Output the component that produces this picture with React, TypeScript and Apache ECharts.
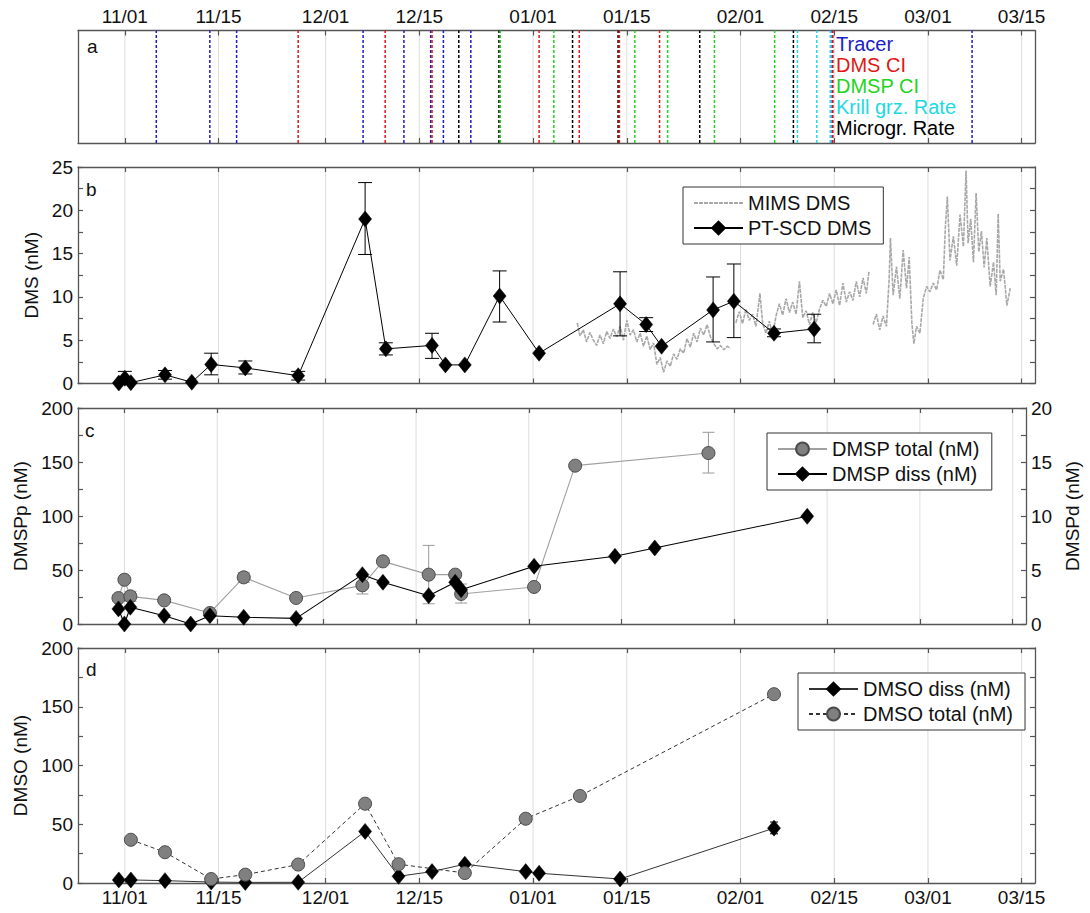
import React, { useEffect, useRef } from 'react';
import * as echarts from 'echarts';

// ---------- axis ticks (days since 11/01) ----------
const X_MIN = -7;
const X_MAX = 136;
const tickDays = [0, 14, 30, 44, 61, 75, 92, 106, 120, 134];
const tickLabels = ['11/01', '11/15', '12/01', '12/15', '01/01', '01/15', '02/01', '02/15', '03/01', '03/15'];

// ---------- panel a: sampling events (days since 11/01) ----------
const tracerDays = [4.7, 12.7, 16.7, 35.6, 41.7, 45.7, 47.6, 51.7, 105.7, 126.6];
const dmsCiDays = [25.9, 38.9, 45.9, 61.9, 67.9, 73.9, 79.9, 105.8];
const dmspCiDays = [56.1, 64.1, 76.2, 81.1, 88.1, 97.1];
const krillDays = [100.5, 103.4, 105.4];
const micrograzDays = [49.9, 55.9, 66.9, 73.7, 85.9, 99.9];

// ---------- panel b: DMS ----------
const mimsTrace: [number, number | null][] = [
  [67.6, 7.0], [68, 5.5], [68.5, 6.2], [69, 4.8], [69.5, 5.9], [70, 5.0], [70.5, 4.4], [71, 5.6],
  [71.5, 4.6], [72, 6.0], [72.5, 5.2], [73, 6.3], [73.5, 5.4], [74, 6.6], [74.5, 5.0], [75, 7.3],
  [75.5, 5.6], [76, 6.2], [76.5, 4.8], [77, 5.8], [77.5, 4.3], [78, 5.5], [78.5, 3.9], [79, 4.7],
  [79.5, 2.2], [80, 3.0], [80.5, 1.3], [81, 2.6], [81.5, 2.0], [82, 3.4], [82.5, 2.8], [83, 4.0],
  [83.5, 3.5], [84, 5.2], [84.5, 4.2], [85, 5.8], [85.5, 4.8], [86, 6.4], [86.5, 5.6], [87, 6.8],
  [87.5, 5.4], [88, 4.6], [88.5, 4.0], [89, 4.4], [89.5, 3.9], [90, 4.3], [90.5, 4.1], [91, null],
  [91.3, 7.0], [91.8, 8.3], [92.3, 6.9], [92.8, 8.6], [93.3, 7.3], [93.8, 8.0], [94.3, 6.6], [94.9, 10.4],
  [95.3, 7.0], [95.8, 5.8], [96.3, 7.2], [96.8, 5.6], [97.3, 7.8], [97.8, 9.2], [98.3, 7.9], [98.8, 9.8],
  [99.3, 8.2], [99.8, 9.4], [100.3, 8.0], [100.8, 11.8], [101.3, 7.6], [101.8, 8.4], [102.3, 6.8], [102.8, 8.2],
  [103.3, 7.0], [103.8, 8.6], [104.3, 9.6], [104.8, 8.9], [105.3, 10.4], [105.8, 9.2], [106.3, 10.8], [106.8, 9.0],
  [107.3, 11.6], [107.8, 9.4], [108.3, 10.6], [108.8, 9.6], [109.3, 11.8], [109.8, 10.0], [110.3, 12.2], [110.8, 10.4],
  [111.2, 13.0], [111.5, null],
  [111.8, 6.8], [112.3, 8.0], [112.8, 6.2], [113.3, 7.8], [113.8, 6.6], [114.2, 12.0], [114.4, 16.8], [114.8, 10.2],
  [115.3, 13.5], [115.8, 9.8], [116.3, 15.4], [116.8, 11.0], [117.2, 14.6], [117.6, 7.0], [117.9, 4.6], [118.3, 6.6],
  [118.8, 5.8], [119.3, 9.8], [119.8, 11.2], [120.3, 10.6], [120.8, 11.6], [121.3, 10.8], [121.8, 13.1], [122.3, 12.0],
  [122.6, 18.0], [122.9, 21.6], [123.3, 14.2], [123.8, 17.0], [124.3, 13.6], [124.8, 19.5], [125.3, 15.8], [125.7, 24.6],
  [126.0, 16.2], [126.4, 19.0], [126.8, 14.0], [127.2, 22.0], [127.6, 15.2], [128.0, 17.6], [128.4, 13.4], [128.8, 16.8],
  [129.3, 11.2], [129.8, 14.0], [130.2, 10.2], [130.5, 19.6], [130.8, 11.8], [131.3, 13.2], [131.8, 9.0], [132.3, 11.0],
];
const dmsDays = [-0.9, 0, 0.9, 6.0, 10.0, 12.9, 18.0, 25.9, 35.9, 39.0, 45.9, 47.9, 50.8, 56.0, 61.9, 74.0, 77.9, 80.2, 87.9, 91.0, 97.0, 103.0];
const dmsVals = [0.05, 0.6, 0.1, 1.0, 0.15, 2.2, 1.8, 0.9, 19.0, 4.0, 4.4, 2.15, 2.15, 10.1, 3.5, 9.2, 6.8, 4.3, 8.5, 9.5, 5.8, 6.3];
const dmsErrLo = [null, 0, null, 0.5, null, 1.0, 1.1, 0.4, 14.9, 3.3, 2.9, null, null, 7.1, null, 5.5, 6.0, null, 4.8, 5.3, 5.4, 4.7];
const dmsErrHi = [null, 1.4, null, 1.5, null, 3.5, 2.6, 1.4, 23.2, 4.7, 5.8, null, null, 13.0, null, 12.9, 7.6, null, 12.3, 13.8, 6.3, 8.0];

// ---------- panel c: DMSP ----------
const dmspTotDays = [-0.9, 0, 0.9, 6.0, 12.9, 18.0, 25.9, 35.9, 39.0, 45.9, 49.9, 50.8, 61.8, 68.0, 88.1];
const dmspTotVals = [24, 41, 25.6, 21.9, 10.2, 43.2, 24.1, 35.8, 58.0, 45.7, 45.7, 27.8, 34.3, 146.6, 158.3];
const dmspTotErrLo = [null, null, 21, null, null, 38.5, null, 27.8, null, 18.7, null, 19.4, null, null, 139.8];
const dmspTotErrHi = [null, null, 30.2, null, null, 47.8, null, 44, null, 72.8, null, 37, null, null, 177.5];
const dmspDissDays = [-0.9, 0, 0.9, 6.0, 10.0, 12.9, 18.0, 25.9, 35.9, 39.0, 45.9, 49.9, 50.8, 61.8, 74.0, 80.0, 103.0];
const dmspDissVals = [1.4, 0.0, 1.55, 0.77, 0.0, 0.77, 0.62, 0.52, 4.57, 3.86, 2.62, 3.86, 3.18, 5.34, 6.27, 7.04, 9.97];

// ---------- panel d: DMSO ----------
const dmsoDissDays = [-0.9, 0.9, 6.0, 12.9, 18.0, 25.9, 35.9, 40.9, 45.9, 50.8, 59.9, 61.9, 74.0, 97.0];
const dmsoDissVals = [2.6, 2.6, 2.0, 0.8, 0.5, 0.6, 43.9, 5.7, 9.7, 16.0, 9.7, 8.3, 3.4, 46.7];
const dmsoDissErrLo = [null, null, null, null, null, null, null, null, null, null, null, null, null, 41.9];
const dmsoDissErrHi = [null, null, null, null, null, null, null, null, null, null, null, null, null, 51.9];
const dmsoTotDays = [0.9, 6.0, 12.9, 18.0, 25.9, 35.9, 40.9, 50.8, 59.9, 68.0, 97.0];
const dmsoTotVals = [36.8, 26.2, 3.4, 7.1, 15.7, 67.5, 16.0, 8.5, 54.7, 74.1, 160.7];

// ---------- styling ----------
const FONT = '"Liberation Sans", Arial, Helvetica, sans-serif';
const AX = '#555555';
const TXT = '#111111';

const grids = [
  { left: 78, top: 30.5, width: 957, height: 112.5 },
  { left: 78, top: 167, width: 957, height: 216.5 },
  { left: 78, top: 408, width: 957, height: 216 },
  { left: 78, top: 648, width: 957, height: 235 },
];
const yRanges = [
  [0, 1],
  [0, 25],
  [0, 200],
  [0, 200],
];

function xAxis(gridIndex: number, position: 'top' | 'bottom', showLabel: boolean) {
  return {
    type: 'value',
    gridIndex,
    position,
    min: X_MIN,
    max: X_MAX,
    axisLine: { show: true, onZero: false, lineStyle: { color: AX, width: 1.3 } },
    axisTick: { show: true, inside: true, length: 5, customValues: tickDays, lineStyle: { color: AX, width: 1.2 } },
    axisLabel: {
      show: showLabel,
      customValues: tickDays,
      formatter: (v: number) => {
        const i = tickDays.indexOf(v);
        return i >= 0 ? tickLabels[i] : '';
      },
      fontSize: 19,
      color: TXT,
      fontFamily: FONT,
      margin: 5,
    },
    splitLine: { show: false },
  };
}

function yAxis(
  gridIndex: number,
  position: 'left' | 'right',
  min: number,
  max: number,
  interval: number,
  labelStep: number,
  showLabel: boolean,
  showTick: boolean,
  name?: string
) {
  return {
    type: 'value',
    gridIndex,
    position,
    min,
    max,
    interval,
    axisLine: { show: true, onZero: false, lineStyle: { color: AX, width: 1.3 } },
    axisTick: { show: showTick, inside: true, length: 5, lineStyle: { color: AX, width: 1.2 } },
    axisLabel: {
      show: showLabel,
      formatter: (v: number) => {
        const r = v / labelStep;
        return Math.abs(r - Math.round(r)) < 1e-6 ? String(v) : '';
      },
      fontSize: 19,
      color: TXT,
      fontFamily: FONT,
      margin: 5,
    },
    splitLine: { show: false },
    name: name || '',
    nameLocation: 'middle',
    nameGap: 28,
    nameRotate: 90,
    nameTextStyle: { fontSize: 19, color: TXT, fontFamily: FONT },
  };
}

function gridLineSeries(g: number) {
  const [y0, y1] = yRanges[g];
  return {
    type: 'custom',
    xAxisIndex: 2 * g,
    yAxisIndex: 2 * g,
    silent: true,
    z: 0,
    data: tickDays.map((d) => [d, y0]),
    renderItem: (_p: any, api: any) => {
      const d = api.value(0);
      const a = api.coord([d, y0]);
      const b = api.coord([d, y1]);
      return {
        type: 'line',
        shape: { x1: a[0], y1: a[1], x2: b[0], y2: b[1] },
        style: { stroke: '#dddddd', lineWidth: 1 },
      };
    },
  };
}

function eventSeries(name: string, days: number[], color: string) {
  return {
    name,
    type: 'custom',
    xAxisIndex: 0,
    yAxisIndex: 0,
    silent: true,
    z: 2,
    itemStyle: { color },
    data: days.map((d) => [d, 0]),
    renderItem: (_p: any, api: any) => {
      const d = api.value(0);
      const a = api.coord([d, 0]);
      const b = api.coord([d, 1]);
      return {
        type: 'line',
        shape: { x1: a[0], y1: a[1], x2: b[0], y2: b[1] },
        style: { stroke: color, lineWidth: 1.5, lineDash: [3, 2] },
      };
    },
  };
}

function errorSeries(
  xAxisIndex: number,
  yAxisIndex: number,
  days: number[],
  lo: (number | null)[],
  hi: (number | null)[],
  color: string,
  capHalf: number
) {
  const data: number[][] = [];
  days.forEach((d, i) => {
    const l = lo[i];
    const h = hi[i];
    if (l != null && h != null) data.push([d, l, h]);
  });
  return {
    type: 'custom',
    xAxisIndex,
    yAxisIndex,
    silent: true,
    z: 2,
    data,
    encode: { x: 0, y: [1, 2] },
    renderItem: (_p: any, api: any) => {
      const x = api.value(0);
      const a = api.coord([x, api.value(1)]);
      const b = api.coord([x, api.value(2)]);
      const style = { stroke: color, lineWidth: 1 };
      return {
        type: 'group',
        children: [
          { type: 'line', shape: { x1: a[0], y1: a[1], x2: b[0], y2: b[1] }, style },
          { type: 'line', shape: { x1: a[0] - capHalf, y1: a[1], x2: a[0] + capHalf, y2: a[1] }, style },
          { type: 'line', shape: { x1: b[0] - capHalf, y1: b[1], x2: b[0] + capHalf, y2: b[1] }, style },
        ],
      };
    },
  };
}

const pair = (xs: number[], ys: number[]) => xs.map((x, i) => [x, ys[i]]);

const diamond = { symbol: 'diamond', symbolSize: [13, 16], itemStyle: { color: '#000', borderColor: '#000', borderWidth: 0.5 } };
const circle = { symbol: 'circle', symbolSize: 13, itemStyle: { color: '#808080', borderColor: '#4a4a4a', borderWidth: 1 } };

function buildOption() {
  const boxLegend = {
    orient: 'vertical',
    backgroundColor: '#ffffff',
    borderColor: '#333333',
    borderWidth: 1,
    borderRadius: 0,
    padding: [6, 12, 6, 10],
    itemGap: 5,
    itemWidth: 49,
    itemHeight: 16,
    textStyle: { fontSize: 20, color: TXT, fontFamily: FONT },
    selectedMode: false,
  };
  return {
    animation: false,
    backgroundColor: '#ffffff',
    textStyle: { fontFamily: FONT },
    grid: grids.map((g) => ({ ...g, containLabel: false })),
    xAxis: [
      xAxis(0, 'bottom', false),
      xAxis(0, 'top', true),
      xAxis(1, 'bottom', false),
      xAxis(1, 'top', false),
      xAxis(2, 'bottom', false),
      xAxis(2, 'top', false),
      xAxis(3, 'bottom', true),
      xAxis(3, 'top', false),
    ],
    yAxis: [
      yAxis(0, 'left', 0, 1, 1, 1, false, false),
      yAxis(0, 'right', 0, 1, 1, 1, false, false),
      yAxis(1, 'left', 0, 25, 2.5, 5, true, true, 'DMS (nM)'),
      yAxis(1, 'right', 0, 25, 2.5, 5, false, true),
      yAxis(2, 'left', 0, 200, 25, 50, true, true, 'DMSPp (nM)'),
      yAxis(2, 'right', 0, 20, 2.5, 5, true, true, 'DMSPd (nM)'),
      yAxis(3, 'left', 0, 200, 25, 50, true, true, 'DMSO (nM)'),
      yAxis(3, 'right', 0, 200, 25, 50, false, true),
    ],
    legend: [
      {
        left: 826,
        top: 29,
        orient: 'vertical',
        itemGap: 1,
        itemWidth: 0,
        itemHeight: 0,
        icon: 'none',
        selectedMode: false,
        textStyle: { fontSize: 20, fontFamily: FONT },
        data: [
          { name: 'Tracer', textStyle: { color: '#1c1cc8' } },
          { name: 'DMS CI', textStyle: { color: '#e01818' } },
          { name: 'DMSP CI', textStyle: { color: '#22d422' } },
          { name: 'Krill grz. Rate', textStyle: { color: '#22d8e0' } },
          { name: 'Microgr. Rate', textStyle: { color: '#000000' } },
        ],
      },
      {
        ...boxLegend,
        left: 683,
        top: 187,
        data: [{ name: 'MIMS DMS', itemStyle: { opacity: 0 } }, 'PT-SCD DMS'],
      },
      { ...boxLegend, left: 767, top: 433, data: ['DMSP total (nM)', 'DMSP diss (nM)'] },
      { ...boxLegend, left: 798, top: 673, data: ['DMSO diss (nM)', 'DMSO total (nM)'] },
    ],
    graphic: [
      { type: 'text', left: 87, top: 37, style: { text: 'a', fontSize: 19, fill: TXT, fontFamily: FONT } },
      { type: 'text', left: 86, top: 180, style: { text: 'b', fontSize: 19, fill: TXT, fontFamily: FONT } },
      { type: 'text', left: 85, top: 421, style: { text: 'c', fontSize: 19, fill: TXT, fontFamily: FONT } },
      { type: 'text', left: 86, top: 660, style: { text: 'd', fontSize: 19, fill: TXT, fontFamily: FONT } },
    ],
    series: [
      gridLineSeries(0),
      gridLineSeries(1),
      gridLineSeries(2),
      gridLineSeries(3),
      eventSeries('Tracer', tracerDays, '#1c1cc8'),
      eventSeries('Microgr. Rate', micrograzDays, '#000000'),
      eventSeries('DMSP CI', dmspCiDays, '#22d422'),
      eventSeries('Krill grz. Rate', krillDays, '#22d8e0'),
      eventSeries('DMS CI', dmsCiDays, '#e01818'),
      {
        name: 'MIMS DMS',
        type: 'line',
        xAxisIndex: 2,
        yAxisIndex: 2,
        data: mimsTrace.map(([d, v]) => [d, v == null ? '-' : v]),
        showSymbol: false,
        symbol: 'none',
        connectNulls: false,
        lineStyle: { color: '#a8a8a8', width: 1.6, type: [4, 1] },
        itemStyle: { color: '#a8a8a8', opacity: 0 },
        z: 1,
      },
      errorSeries(2, 2, dmsDays, dmsErrLo, dmsErrHi, '#000000', 7),
      {
        name: 'PT-SCD DMS',
        type: 'line',
        xAxisIndex: 2,
        yAxisIndex: 2,
        data: pair(dmsDays, dmsVals),
        ...diamond,
        lineStyle: { color: '#000', width: 1 },
        z: 3,
      },
      errorSeries(4, 4, dmspTotDays, dmspTotErrLo, dmspTotErrHi, '#999999', 6),
      {
        name: 'DMSP total (nM)',
        type: 'line',
        xAxisIndex: 4,
        yAxisIndex: 4,
        data: pair(dmspTotDays, dmspTotVals),
        ...circle,
        lineStyle: { color: '#a0a0a0', width: 1.1 },
        z: 3,
      },
      {
        name: 'DMSP diss (nM)',
        type: 'line',
        xAxisIndex: 4,
        yAxisIndex: 5,
        data: pair(dmspDissDays, dmspDissVals),
        ...diamond,
        lineStyle: { color: '#000', width: 1.1 },
        z: 4,
      },
      errorSeries(6, 6, dmsoDissDays, dmsoDissErrLo, dmsoDissErrHi, '#000000', 4),
      {
        name: 'DMSO diss (nM)',
        type: 'line',
        xAxisIndex: 6,
        yAxisIndex: 6,
        data: pair(dmsoDissDays, dmsoDissVals),
        ...diamond,
        lineStyle: { color: '#333', width: 1 },
        z: 3,
      },
      {
        name: 'DMSO total (nM)',
        type: 'line',
        xAxisIndex: 6,
        yAxisIndex: 6,
        data: pair(dmsoTotDays, dmsoTotVals),
        ...circle,
        lineStyle: { color: '#333', width: 1, type: [4, 3] },
        z: 4,
      },
    ],
  };
}

export default function App() {
  const ref = useRef<HTMLDivElement>(null);
  useEffect(() => {
    document.body.style.margin = '0';
    const chart = echarts.init(ref.current as HTMLDivElement, null, { renderer: 'svg' });
    chart.setOption(buildOption() as any);
    return () => chart.dispose();
  }, []);
  return <div ref={ref} style={{ width: 1090, height: 913 }} />;
}
